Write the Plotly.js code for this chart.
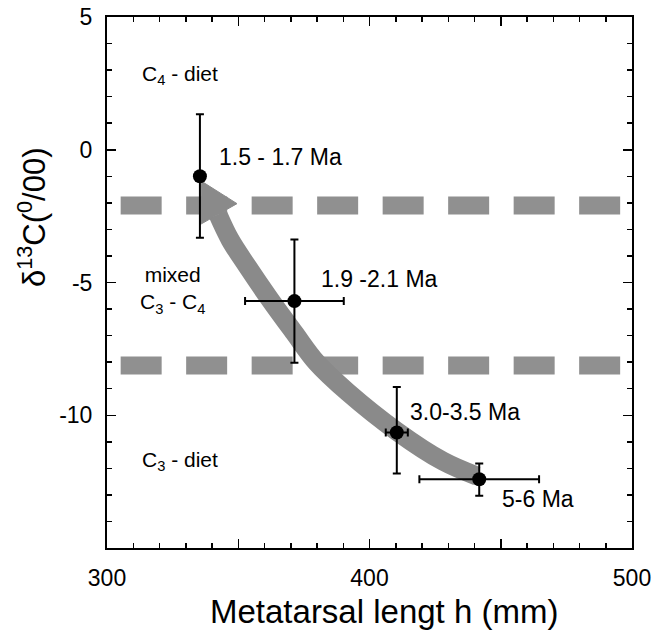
<!DOCTYPE html>
<html>
<head>
<meta charset="utf-8">
<script src="https://cdn.plot.ly/plotly-3.0.1.min.js"></script>
<style>html,body{margin:0;padding:0;background:#fff;}#chart{width:654px;height:633px;}</style>
</head>
<body>
<div id="chart"></div>
<script>
// Data points (metatarsal length, delta13C)
const ageLabels = ['1.5 - 1.7 Ma', '1.9 -2.1 Ma', '3.0-3.5 Ma', '5-6 Ma'];
const lengthMm = [335.4, 371.4, 410.4, 441.8];
const delta13C = [-1.0, -5.7, -10.65, -12.41];
const lengthErr = [0, 18.8, 4.2, 22.8];
const deltaErrPlus = [2.34, 2.32, 1.71, 0.59];
const deltaErrMinus = [2.31, 2.32, 1.54, 0.62];

// Diet boundaries (horizontal dashed lines)
const dietThresholds = [-2.1, -8.13];

// Trend arrow path
const arrowX = [440.95, 428.0, 410.36, 391.81, 379.89, 371.24, 362.10, 353.45, 346.86, 342.29];
const arrowY = [-12.29, -11.73, -10.60, -9.14, -8.02, -6.88, -5.64, -4.39, -3.38, -2.44];
const arrowHeadX = [336.08, 335.43, 349.52, 336.08];
const arrowHeadY = [-1.19, -2.82, -2.03, -1.19];

// Age label anchor positions
const ageLabelX = [341.8, 380.9, 414.7, 449.7];
const ageLabelY = [-0.29, -4.85, -9.89, -13.16];

// Diet zone labels
const zoneLabels = ['C<sub>4</sub> - diet', 'mixed<br>C<sub>3</sub> - C<sub>4</sub>', 'C<sub>3</sub> - diet'];
const zoneLabelX = [312.6, 325.1, 312.6];
const zoneLabelY = [2.82, -5.3, -11.73];
const zoneAnchor = ['left', 'center', 'left'];

const xTickVals = [300, 400, 500];
const xTickText = ['300', '400', '500'];
const xUnlabeledMajor = [350, 450];
const yTickVals = [5, 0, -5, -10];
const yTickText = ['5', '0', '-5', '-10'];

const FONT = 'Liberation Sans, Arial, Helvetica, sans-serif';
const gray = '#8a8a8a';

const traces = [
  {
    x: arrowX, y: arrowY, mode: 'lines', type: 'scatter',
    line: {color: gray, width: 19, shape: 'spline', smoothing: 1},
    hoverinfo: 'skip', showlegend: false
  },
  {
    x: arrowHeadX, y: arrowHeadY, mode: 'lines', type: 'scatter',
    fill: 'toself', fillcolor: gray, line: {color: gray, width: 1},
    hoverinfo: 'skip', showlegend: false
  },
  {
    x: lengthMm, y: delta13C, mode: 'markers', type: 'scatter',
    marker: {color: '#000', size: 14},
    error_x: {type: 'data', array: lengthErr, symmetric: true, color: '#000', thickness: 2, width: 4},
    error_y: {type: 'data', array: deltaErrPlus, arrayminus: deltaErrMinus, symmetric: false, color: '#000', thickness: 2, width: 4},
    showlegend: false
  }
];

const shapes = dietThresholds.map(v => ({
  type: 'line', xref: 'x', yref: 'y', layer: 'below',
  x0: 305.2, x1: 496, y0: v, y1: v,
  line: {color: '#909090', width: 18, dash: '41px,24.5px'}
}));

const annotations = [];
ageLabels.forEach((t, i) => annotations.push({
  x: ageLabelX[i], y: ageLabelY[i], xref: 'x', yref: 'y', text: t,
  showarrow: false, xanchor: 'left', yanchor: 'middle',
  font: {family: FONT, size: 23, color: '#000'}
}));
zoneLabels.forEach((t, i) => annotations.push({
  x: zoneLabelX[i], y: zoneLabelY[i], xref: 'x', yref: 'y', text: t,
  showarrow: false, xanchor: zoneAnchor[i], yanchor: 'middle', align: 'center',
  font: {family: FONT, size: 21, color: '#000'}
}));
annotations.push({
  x: 0.5276, y: -0.1205, xref: 'paper', yref: 'paper',
  text: 'Metatarsal lengt h (mm)', showarrow: false,
  xanchor: 'center', yanchor: 'middle',
  font: {family: FONT, size: 33, color: '#000'}
});
annotations.push({
  x: -0.143, y: 0.623, xref: 'paper', yref: 'paper',
  text: '\u03B4<sup>13</sup>C(<sup>0</sup>/00)', showarrow: false, textangle: -90,
  xanchor: 'center', yanchor: 'middle',
  font: {family: FONT, size: 31, color: '#000'}
});

const axisCommon = {
  showgrid: false, zeroline: false, showline: true, linecolor: '#000', linewidth: 2,
  mirror: 'ticks', ticks: 'inside', ticklen: 9, tickwidth: 1.5, tickcolor: '#000',
  tickfont: {family: FONT, size: 23, color: '#000'}, ticklabelstandoff: 8
};

const layout = {
  width: 654, height: 633,
  margin: {l: 107, r: 22, t: 17, b: 85},
  paper_bgcolor: '#fff', plot_bgcolor: '#fff',
  xaxis: Object.assign({}, axisCommon, {
    range: [300, 500], tickmode: 'array', tickvals: xTickVals, ticktext: xTickText,
    minor: {ticks: 'inside', ticklen: 5, dtick: 10, tick0: 300, tickcolor: '#000', tickwidth: 1.5, showgrid: false}
  }),
  xaxis2: {
    overlaying: 'x', matches: 'x', range: [300, 500], showgrid: false, zeroline: false,
    showline: false, mirror: 'ticks', ticks: 'inside', ticklen: 9, tickwidth: 1.5, tickcolor: '#000',
    tickmode: 'array', tickvals: xUnlabeledMajor, showticklabels: false, anchor: 'y'
  },
  yaxis: Object.assign({}, axisCommon, {
    range: [-15, 5], tickmode: 'array', tickvals: yTickVals, ticktext: yTickText,
    minor: {ticks: 'inside', ticklen: 5, dtick: 1, tick0: 0, tickcolor: '#000', tickwidth: 1.5, showgrid: false}
  }),
  shapes: shapes,
  annotations: annotations,
  showlegend: false
};

// invisible helper trace so the secondary x axis (unlabelled major ticks) is drawn
traces.unshift({x: [xUnlabeledMajor[0]], y: [delta13C[0]], xaxis: 'x2', yaxis: 'y', mode: 'markers',
  marker: {opacity: 0}, hoverinfo: 'skip', showlegend: false});

Plotly.newPlot('chart', traces, layout, {displayModeBar: false, staticPlot: true});
</script>
</body>
</html>
